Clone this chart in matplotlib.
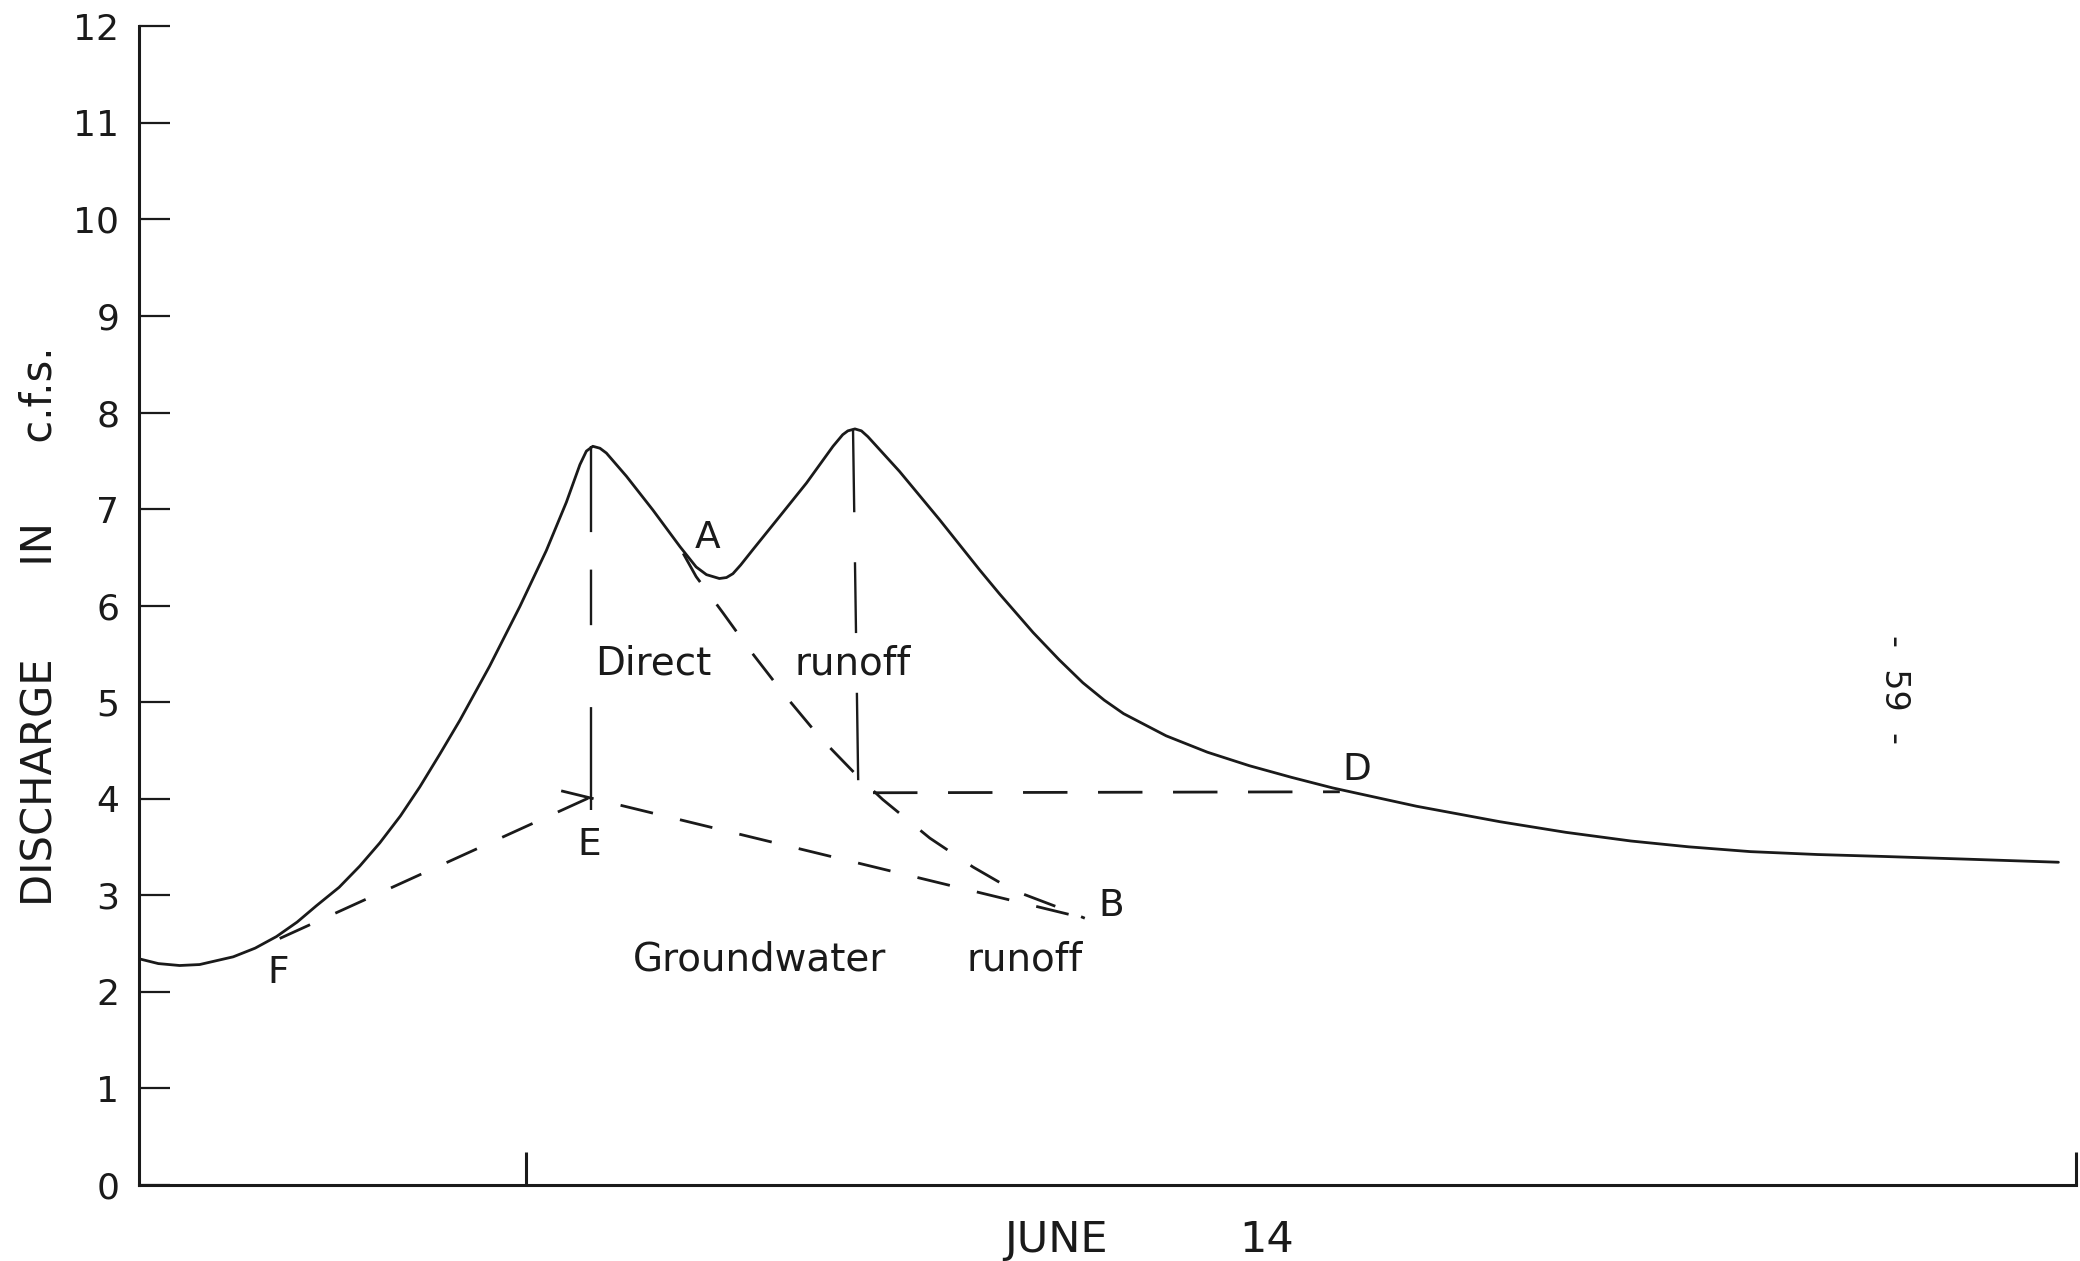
"""Hydrograph separation: direct runoff vs groundwater runoff (June 14)."""
import matplotlib
matplotlib.use("Agg")
import matplotlib.pyplot as plt

plt.rcParams["font.family"] = ["DejaVu Sans"]
plt.rcParams["lines.scale_dashes"] = False

# --- data (time in hours, discharge in c.f.s.) ---
hydro_t = [0.00, 0.30, 0.63, 0.94, 1.46, 1.80, 2.13, 2.45, 2.75, 3.10, 3.42,
           3.73, 4.05, 4.35, 4.66, 4.97, 5.43, 5.90, 6.31, 6.62, 6.83, 6.93,
           7.03, 7.14, 7.24, 7.55, 7.96, 8.38, 8.63, 8.79, 8.99, 9.10, 9.20,
           9.32, 9.51, 9.92, 10.34, 10.75, 10.90, 10.98, 11.09, 11.19, 11.29,
           11.78, 12.40, 13.02, 13.33, 13.85, 14.25, 14.62, 14.95, 15.25,
           15.91, 16.55, 17.20, 17.85, 18.49, 19.79, 21.08, 22.10, 23.11,
           24.00, 24.96, 26.00, 27.02, 28.40, 29.73]
hydro_q = [2.34, 2.29, 2.27, 2.28, 2.36, 2.45, 2.57, 2.72, 2.89, 3.08, 3.30,
           3.54, 3.82, 4.12, 4.46, 4.81, 5.37, 5.99, 6.57, 7.07, 7.46, 7.60,
           7.65, 7.63, 7.58, 7.34, 6.99, 6.61, 6.40, 6.32, 6.28, 6.29, 6.33,
           6.42, 6.58, 6.92, 7.27, 7.65, 7.77, 7.81, 7.83, 7.81, 7.75,
           7.39, 6.89, 6.37, 6.12, 5.72, 5.44, 5.20, 5.02, 4.88,
           4.65, 4.48, 4.34, 4.22, 4.11, 3.92, 3.76, 3.65, 3.56,
           3.50, 3.45, 3.42, 3.40, 3.37, 3.34]

# recession of the first peak extended under the second (A -> B)
recess_t = [8.43, 8.63, 9.05, 9.46, 9.98, 10.54, 11.09, 11.52, 12.25, 12.92,
            13.54, 14.21, 14.65]
recess_q = [6.54, 6.30, 5.92, 5.54, 5.09, 4.64, 4.26, 3.99, 3.59, 3.29,
            3.05, 2.88, 2.76]

# groundwater separation F -> E -> B
fe_t = [2.18, 7.34]
fe_q = [2.55, 4.12]
eb_t = [6.54, 14.65]
eb_q = [4.08, 2.76]

# verticals from the peaks, and the line to D
peak1_t = [7.00, 7.00]
peak1_q = [7.65, 3.88]
peak2_t = [11.06, 11.14]
peak2_q = [7.83, 4.19]
dline_t = [11.37, 18.60]
dline_q = [4.06, 4.07]

point_names = ["A", "B", "D", "E", "F"]
point_t = [8.81, 15.06, 18.86, 6.97, 2.15]
point_q = [6.70, 2.89, 4.30, 3.52, 2.19]

fig = plt.figure(figsize=(20.8, 12.61), dpi=100)
ax = fig.add_axes([0.0668, 0.0606, 0.9312, 0.9184])

lw = 2.0
ink = "#1a1a1a"
dash = (24, 20)

ax.plot(hydro_t, hydro_q, color=ink, lw=lw, solid_capstyle="round",
        solid_joinstyle="round")
ax.plot(recess_t, recess_q, color=ink, lw=lw, dashes=dash)
ax.plot(fe_t, fe_q, color=ink, lw=lw, dashes=dash)
ax.plot(eb_t, eb_q, color=ink, lw=lw, dashes=dash)
ax.plot(dline_t, dline_q, color=ink, lw=lw, dashes=(32, 22))
ax.plot(peak1_t, peak1_q, color=ink, lw=1.7, dashes=(62, 27, 40, 59, 90, 10))
ax.plot(peak2_t, peak2_q, color=ink, lw=1.7, dashes=(60, 36, 51, 43, 80, 10))

txt = dict(color=ink, ha="center", va="center")
for name, px, py in zip(point_names, point_t, point_q):
    ax.text(px, py, name, fontsize=27, **txt)

ax.text(7.97, 5.40, "Direct", fontsize=28, **txt)
ax.text(11.06, 5.40, "runoff", fontsize=28, **txt)
ax.text(9.61, 2.33, "Groundwater", fontsize=28, **txt)
ax.text(13.72, 2.33, "runoff", fontsize=28, **txt)

ax.set_xlim(0, 30)
ax.set_ylim(0, 12)
ax.set_yticks(range(13))
ax.set_xticks([6, 30])
ax.set_xticklabels([])
ax.tick_params(axis="y", direction="in", length=22, width=1.6, pad=14,
               labelsize=26, colors=ink)
ax.tick_params(axis="x", direction="in", length=24, width=2.2, colors=ink)
for side in ("top", "right"):
    ax.spines[side].set_visible(False)
for side in ("left", "bottom"):
    ax.spines[side].set_linewidth(2.2)
    ax.spines[side].set_color(ink)

xax = ax.get_xaxis_transform()
ax.text(14.21, -0.048, "JUNE", transform=xax, fontsize=31, **txt)
ax.text(17.46, -0.048, "14", transform=xax, fontsize=31, **txt)

fig.text(0.019, 0.503, "DISCHARGE       IN      c.f.s.", rotation=90,
         fontsize=30, **txt)
fig.text(0.911, 0.453, "-  59  -", rotation=-90, fontsize=24, **txt)

fig.savefig("out.png", dpi=100, facecolor="white")
